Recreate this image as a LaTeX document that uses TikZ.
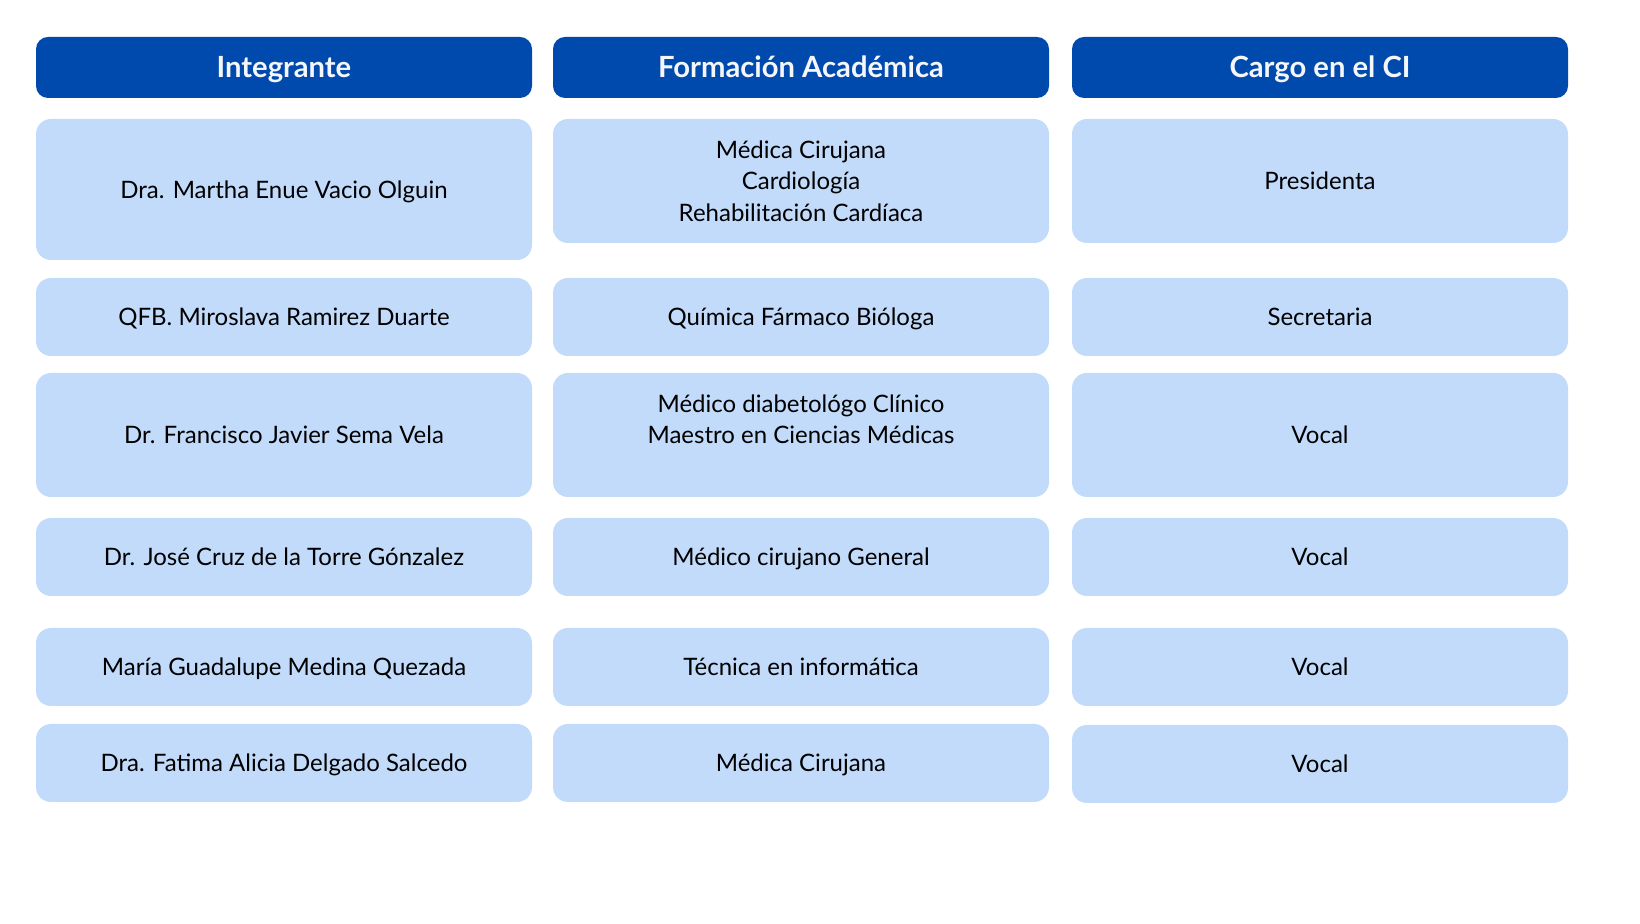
\documentclass[tikz,border=0pt]{standalone}
\usepackage{fontspec}
\setmainfont{Lato}
\definecolor{hdrblue}{HTML}{004AAD}
\definecolor{cellblue}{HTML}{C2DBFA}
\definecolor{hdrtext}{HTML}{F4F6FA}
\begin{document}
\begin{tikzpicture}[x=0.5pt,y=-0.5pt,
  hdr/.style={fill=hdrblue, rounded corners=6pt, minimum width=248pt, minimum height=30.5pt, inner sep=0pt,
    text=hdrtext, font=\bfseries\fontsize{14.6}{17}\selectfont, text height=10.5pt, text depth=0pt},
  cell/.style={fill=cellblue, rounded corners=7.5pt, minimum width=248pt, inner sep=0pt, align=center,
    text=black, font=\fontsize{12}{15.75}\selectfont, text height=8.6pt, text depth=0pt},
  three/.style={text height=40.1pt},
  h39/.style={minimum height=39pt},
  h62/.style={minimum height=62pt},
  h70/.style={minimum height=70.5pt}]
\useasboundingbox (0,0) rectangle (1640,924);
\fill[white] (0,0) rectangle (1640,924);
% headers
\node[hdr] (h1) at (284,67.5) {Integrante};
\node[hdr] (h2) at (801,67.5) {Formación Académica};
\node[hdr] (h3) at (1320,67.5) {Cargo en el CI};
% row 1
\node[cell,h70] (a1) at (284,189.5) {Dra. Martha Enue Vacio Olguin};
\node[cell,h62,three] (b1) at (801,181) {Médica Cirujana\\Cardiología\\Rehabilitación Cardíaca};
\node[cell,h62] (c1) at (1320,181) {Presidenta};
% row 2
\node[cell,h39] (a2) at (284,317) {QFB. Miroslava Ramirez Duarte};
\node[cell,h39] (b2) at (801,317) {Química Fármaco Bióloga};
\node[cell,h39] (c2) at (1320,317) {Secretaria};
% row 3
\node[cell,h62] (a3) at (284,435) {Dr. Francisco Javier Sema Vela};
\node[cell,h62] (b3) at (801,435) {Médico diabetológo Clínico\\Maestro en Ciencias Médicas};
\node[cell,h62] (c3) at (1320,435) {Vocal};
% row 4
\node[cell,h39] (a4) at (284,557) {Dr. José Cruz de la Torre Gónzalez};
\node[cell,h39] (b4) at (801,557) {Médico cirujano General};
\node[cell,h39] (c4) at (1320,557) {Vocal};
% row 5
\node[cell,h39] (a5) at (284,667) {María Guadalupe Medina Quezada};
\node[cell,h39] (b5) at (801,667) {Técnica en informática};
\node[cell,h39] (c5) at (1320,667) {Vocal};
% row 6
\node[cell,h39] (a6) at (284,763) {Dra. Fatima Alicia Delgado Salcedo};
\node[cell,h39] (b6) at (801,763) {Médica Cirujana};
\node[cell,h39] (c6) at (1320,764) {Vocal};
\end{tikzpicture}
\end{document}
